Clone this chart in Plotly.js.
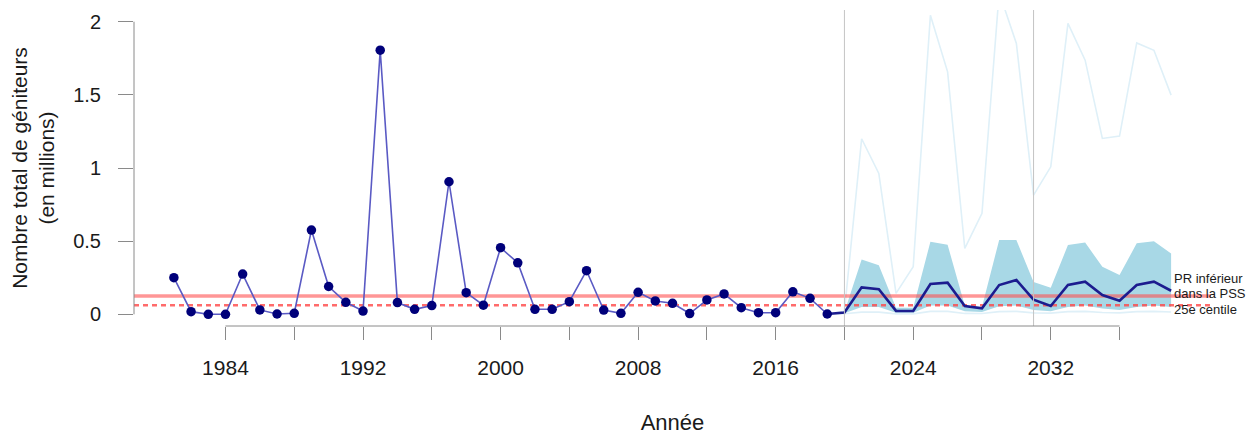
<!DOCTYPE html>
<html>
<head>
<meta charset="utf-8">
<script src="https://cdn.plot.ly/plotly-3.0.1.min.js"></script>
<style>
  html, body { margin: 0; padding: 0; background: #ffffff; }
  #chart { width: 1252px; height: 435px; }
</style>
</head>
<body>
<div id="chart"></div>
<script>
// ---------- Data ----------
const histYears = [1981,1982,1983,1984,1985,1986,1987,1988,1989,1990,
                   1991,1992,1993,1994,1995,1996,1997,1998,1999,2000,
                   2001,2002,2003,2004,2005,2006,2007,2008,2009,2010,
                   2011,2012,2013,2014,2015,2016,2017,2018,2019];
const histSpawners = [0.25,0.018,0.0,0.0,0.275,0.03,0.002,0.007,0.576,0.19,
                      0.082,0.022,1.805,0.08,0.034,0.06,0.906,0.148,0.062,0.455,
                      0.352,0.034,0.034,0.086,0.298,0.029,0.007,0.15,0.091,0.075,
                      0.005,0.098,0.139,0.045,0.011,0.011,0.154,0.109,0.002];

const projYears = [2019,2020,2021,2022,2023,2024,2025,2026,2027,2028,
                   2029,2030,2031,2032,2033,2034,2035,2036,2037,2038,2039];
const projMedian = [0.002,0.012,0.184,0.171,0.023,0.023,0.207,0.216,0.057,0.041,
                    0.2,0.234,0.1,0.057,0.2,0.223,0.132,0.093,0.2,0.223,0.161];
const projBandLow = [0.002,0.008,0.05,0.05,0.01,0.01,0.06,0.06,0.02,0.015,
                     0.055,0.06,0.03,0.02,0.05,0.06,0.04,0.03,0.05,0.06,0.05];
const projBandHigh = [0.002,0.015,0.375,0.335,0.045,0.045,0.496,0.475,0.06,0.05,
                      0.508,0.508,0.22,0.182,0.473,0.49,0.325,0.268,0.485,0.5,0.416];
const projExtremeHigh = [0.002,0.02,1.2,0.963,0.143,0.325,2.044,1.657,0.45,0.69,
                         2.2,1.851,0.815,1.008,1.988,1.737,1.202,1.218,1.855,1.805,1.498];
const projExtremeLow = [0.002,0.004,0.015,0.015,0.003,0.003,0.02,0.02,0.006,0.005,
                        0.018,0.02,0.01,0.008,0.018,0.02,0.012,0.01,0.018,0.02,0.016];

const lowerRefPoint = 0.125;   // PR inférieur dans la PSS
const percentile25 = 0.061;    // 25e centile
const projectionMarks = [2020, 2031];

const xTickVals = [1984,1988,1992,1996,2000,2004,2008,2012,2016,2020,2024,2028,2032,2036];
const xTickText = ['1984','','1992','','2000','','2008','','2016','','2024','','2032',''];
const yTickVals = [0,0.5,1,1.5,2];
const yTickText = ['0','0.5','1','1.5','2'];

const xRange = [1978.68, 2041.32];
const yRange = [-0.08, 2.08];
const xAxisSpan = [1984, 2036];
const yAxisSpan = [0, 2];

const refLabels = ['PR inférieur', 'dans la PSS', '25e centile'];
const refLabelY = [0.246, 0.143, 0.034];

// ---------- Traces ----------
const FONT = '"Liberation Sans", Arial, Helvetica, sans-serif';

const traces = [
  { x: projYears, y: projExtremeHigh, mode: 'lines', type: 'scatter',
    line: { color: '#dff0f8', width: 1.6 }, hoverinfo: 'skip', showlegend: false },
  { x: projYears, y: projExtremeLow, mode: 'lines', type: 'scatter',
    line: { color: '#dff0f8', width: 1.6 }, hoverinfo: 'skip', showlegend: false },
  { x: projYears, y: projBandLow, mode: 'lines', type: 'scatter',
    line: { color: 'rgba(0,0,0,0)', width: 0 }, hoverinfo: 'skip', showlegend: false },
  { x: projYears, y: projBandHigh, mode: 'lines', type: 'scatter', fill: 'tonexty',
    fillcolor: '#a8d8e6', line: { color: 'rgba(0,0,0,0)', width: 0 },
    hoverinfo: 'skip', showlegend: false },
  { x: xRange, y: [lowerRefPoint, lowerRefPoint], mode: 'lines', type: 'scatter',
    line: { color: 'rgba(255,80,80,0.6)', width: 3.5 }, hoverinfo: 'skip', showlegend: false },
  { x: xRange, y: [percentile25, percentile25], mode: 'lines', type: 'scatter',
    line: { color: 'rgba(255,70,70,0.8)', width: 2.5, dash: '5px,4px' }, hoverinfo: 'skip', showlegend: false },
  { x: projYears, y: projMedian, mode: 'lines', type: 'scatter',
    line: { color: '#1c1c8f', width: 2.6 }, showlegend: false },
  { x: histYears, y: histSpawners, mode: 'lines+markers', type: 'scatter',
    line: { color: '#5a5ac4', width: 1.6 },
    marker: { color: '#00007a', size: 9.5 }, showlegend: false }
];

// ---------- Layout ----------
const shapes = [];
projectionMarks.forEach(v => shapes.push({
  type: 'line', xref: 'x', yref: 'paper', x0: v, x1: v, y0: 0, y1: 1,
  line: { color: '#c4c4c4', width: 1 }, layer: 'above'
}));
shapes.push({ type: 'line', xref: 'x', yref: 'paper', x0: xAxisSpan[0], x1: xAxisSpan[1], y0: 0, y1: 0,
  line: { color: '#8a8a8a', width: 1 } });
shapes.push({ type: 'line', xref: 'paper', yref: 'y', x0: 0, x1: 0, y0: yAxisSpan[0], y1: yAxisSpan[1],
  line: { color: '#8a8a8a', width: 1 } });

const annotations = refLabels.map((t, i) => ({
  text: t, xref: 'x', yref: 'y', x: 2039, y: refLabelY[i], xanchor: 'left', yanchor: 'middle',
  showarrow: false, xshift: 1, font: { family: FONT, size: 13, color: '#1a1a1a' }
}));

const layout = {
  width: 1252, height: 435,
  margin: { l: 134, r: 41, t: 10, b: 109 },
  paper_bgcolor: '#ffffff', plot_bgcolor: '#ffffff',
  font: { family: FONT, color: '#1a1a1a', size: 20 },
  showlegend: false,
  xaxis: {
    range: xRange, showgrid: false, zeroline: false, showline: false,
    tickmode: 'array', tickvals: xTickVals, ticktext: xTickText,
    ticks: 'outside', ticklen: 13, tickcolor: '#8a8a8a', tickwidth: 1,
    ticklabelstandoff: 10,
    tickfont: { family: FONT, size: 21, color: '#1a1a1a' },
    title: { text: 'Année', font: { family: FONT, size: 22, color: '#1a1a1a' }, standoff: 40 }
  },
  yaxis: {
    range: yRange, showgrid: false, zeroline: false, showline: false,
    tickmode: 'array', tickvals: yTickVals, ticktext: yTickText,
    ticks: 'outside', ticklen: 15, tickcolor: '#8a8a8a', tickwidth: 1,
    ticklabelstandoff: 13,
    tickfont: { family: FONT, size: 20, color: '#1a1a1a' },
    title: { text: 'Nombre total de géniteurs<br>(en millions)',
             font: { family: FONT, size: 21, color: '#1a1a1a' }, standoff: 12 }
  },
  shapes: shapes,
  annotations: annotations
};

Plotly.newPlot('chart', traces, layout, { displayModeBar: false, staticPlot: true });
</script>
</body>
</html>
